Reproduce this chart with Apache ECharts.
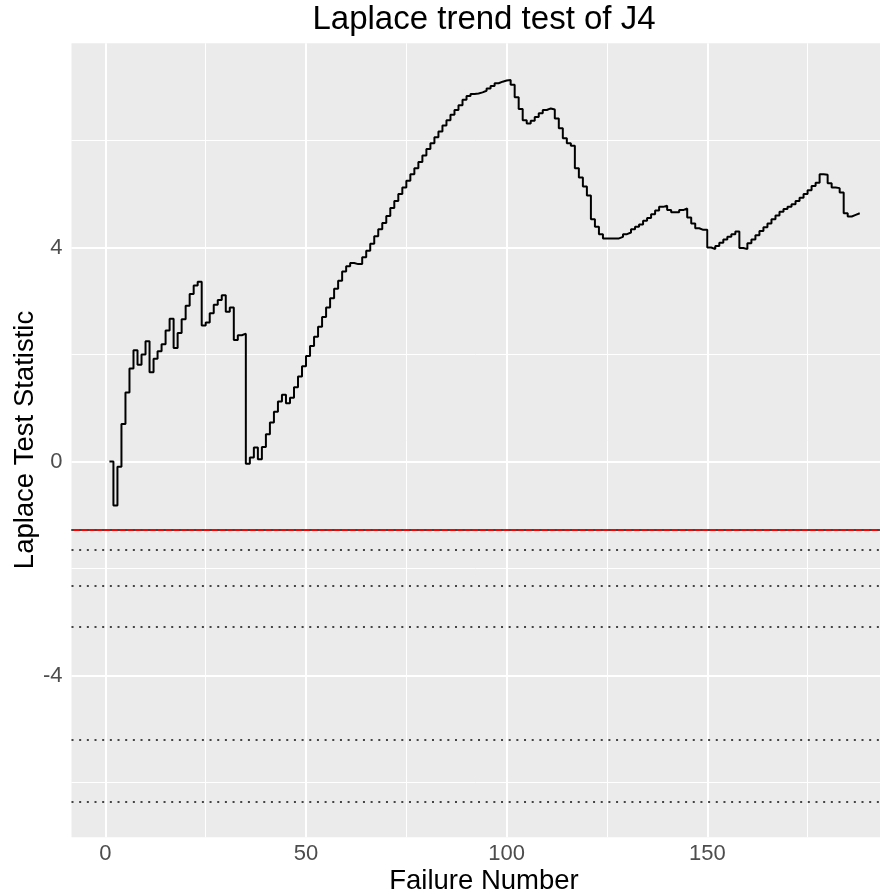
<!DOCTYPE html>
<html><head><meta charset="utf-8">
<script src="https://cdn.jsdelivr.net/npm/echarts@6/dist/echarts.min.js"></script>
<style>html,body{margin:0;padding:0;background:#fff}#c{width:880px;height:894px}</style>
</head><body><div id="c"></div>
<script>
// Laplace test statistic per failure number
const laplaceStat = [
  0.00, -0.82, -0.10, 0.70, 1.29, 1.74, 2.08, 1.81, 2.00, 2.25,
  1.67, 1.92, 2.06, 2.19, 2.45, 2.67, 2.12, 2.40, 2.66, 2.91,
  3.13, 3.29, 3.36, 2.54, 2.60, 2.77, 2.93, 3.02, 3.11, 2.80,
  2.88, 2.27, 2.36, 2.39, -0.04, 0.075, 0.26, 0.04, 0.27, 0.51,
  0.73, 0.93, 1.12, 1.25, 1.09, 1.19, 1.39, 1.59, 1.78, 1.97,
  2.16, 2.33, 2.52, 2.70, 2.88, 3.05, 3.23, 3.38, 3.55, 3.65,
  3.71, 3.69, 3.69, 3.82, 3.94, 4.07, 4.21, 4.34, 4.46, 4.59,
  4.74, 4.87, 5.00, 5.12, 5.25, 5.37, 5.48, 5.60, 5.72, 5.84,
  5.95, 6.06, 6.17, 6.28, 6.38, 6.48, 6.57, 6.66, 6.76, 6.83,
  6.87, 6.88, 6.90, 6.93, 6.97, 7.02, 7.07, 7.10, 7.12, 7.13,
  7.04, 6.81, 6.59, 6.38, 6.32, 6.37, 6.44, 6.51, 6.57, 6.60,
  6.58, 6.41, 6.23, 6.04, 5.95, 5.90, 5.48, 5.31, 5.14, 4.97,
  4.53, 4.39, 4.25, 4.17, 4.17, 4.17, 4.17, 4.20, 4.25, 4.28,
  4.34, 4.39, 4.43, 4.50, 4.55, 4.62, 4.69, 4.76, 4.78, 4.70,
  4.66, 4.66, 4.70, 4.73, 4.56, 4.45, 4.36, 4.33, 4.33, 4.00,
  3.97, 4.03, 4.09, 4.15, 4.20, 4.25, 4.30, 3.99, 3.97, 4.08,
  4.15, 4.23, 4.31, 4.38, 4.45, 4.53, 4.60, 4.67, 4.72, 4.76,
  4.81, 4.87, 4.93, 5.00, 5.07, 5.15, 5.21, 5.37, 5.36, 5.20,
  5.12, 5.11, 5.03, 4.64, 4.58, 4.61, 4.64, 4.65
];
const failureNumber = laplaceStat.map((v, i) => i + 1);

const xBreaks = [0, 50, 100, 150];
const xMinorBreaks = [25, 75, 125, 175];
const yBreaks = [-4, 0, 4];
const yMinorBreaks = [-6, -2, 2, 6];
const redLevel = -1.2816;
const dottedLevels = [-1.2816, -1.645, -2.326, -3.090, -5.199, -6.361];

const titleText = 'Laplace trend test of J4';
const xTitle = 'Failure Number';
const yTitle = 'Laplace Test Statistic';

const FONT = '"Liberation Sans", Arial, Helvetica, sans-serif';
const chart = echarts.init(document.getElementById('c'), null, {renderer: 'canvas'});

const markBase = {silent: true, symbol: ['none', 'none'], label: {show: false}, emphasis: {disabled: true}, animation: false};

chart.setOption({
  animation: false,
  backgroundColor: '#FFFFFF',
  grid: {left: 71.5, right: 0, top: 43.3, bottom: 56.7, show: true, backgroundColor: '#EBEBEB', borderWidth: 0, outerBoundsMode: 'none'},
  xAxis: {
    type: 'value', min: -8.45, max: 193.05,
    axisLine: {show: false}, splitLine: {show: false},
    axisTick: {show: true, length: 5, lineStyle: {color: '#333333', width: 2}, customValues: xBreaks},
    axisLabel: {customValues: xBreaks, color: '#4D4D4D', fontSize: 22, fontFamily: FONT, margin: 6}
  },
  yAxis: {
    type: 'value', min: -7.024, max: 7.817,
    axisLine: {show: false}, splitLine: {show: false},
    axisTick: {show: true, length: 5, lineStyle: {color: '#333333', width: 2}, customValues: yBreaks},
    axisLabel: {customValues: yBreaks, color: '#4D4D4D', fontSize: 22, fontFamily: FONT, margin: 9}
  },
  graphic: [
    {type: 'text', x: 484, y: 20, style: {text: titleText, font: '33px ' + FONT, fill: '#000', align: 'center', verticalAlign: 'middle'}},
    {type: 'text', x: 484, y: 881, style: {text: xTitle, font: '27.5px ' + FONT, fill: '#000', align: 'center', verticalAlign: 'middle'}},
    {type: 'text', x: 25, y: 440, rotation: Math.PI / 2, style: {text: yTitle, font: '27.5px ' + FONT, fill: '#000', align: 'center', verticalAlign: 'middle'}}
  ],
  series: [
    {
      type: 'line', data: [], z: 1, silent: true,
      markLine: Object.assign({}, markBase, {z: 1, lineStyle: {color: '#FFFFFF', width: 1, type: 'solid'},
        data: xMinorBreaks.map(v => ({xAxis: v})).concat(yMinorBreaks.map(v => ({yAxis: v})))})
    },
    {
      type: 'line', data: [], z: 1, silent: true,
      markLine: Object.assign({}, markBase, {z: 1, lineStyle: {color: '#FFFFFF', width: 2, type: 'solid'},
        data: xBreaks.map(v => ({xAxis: v})).concat(yBreaks.map(v => ({yAxis: v})))})
    },
    {
      type: 'line', data: [], z: 2, silent: true,
      markLine: Object.assign({}, markBase, {z: 2, lineStyle: {color: '#FF0000', width: 2, type: 'solid'},
        data: [{yAxis: redLevel}]})
    },
    {
      type: 'line', data: [], z: 3, silent: true,
      markLine: Object.assign({}, markBase, {z: 3, lineStyle: {color: '#444444', width: 2, type: [2, 5.67], cap: 'butt'},
        data: dottedLevels.map(v => ({yAxis: v}))})
    },
    {
      name: 'Laplace', type: 'line', z: 4, step: 'end', showSymbol: false, symbol: 'none',
      data: failureNumber.map((x, i) => [x, laplaceStat[i]]),
      lineStyle: {color: '#000000', width: 2},
      itemStyle: {color: '#000000'}
    }
  ]
});
</script>
</body></html>
